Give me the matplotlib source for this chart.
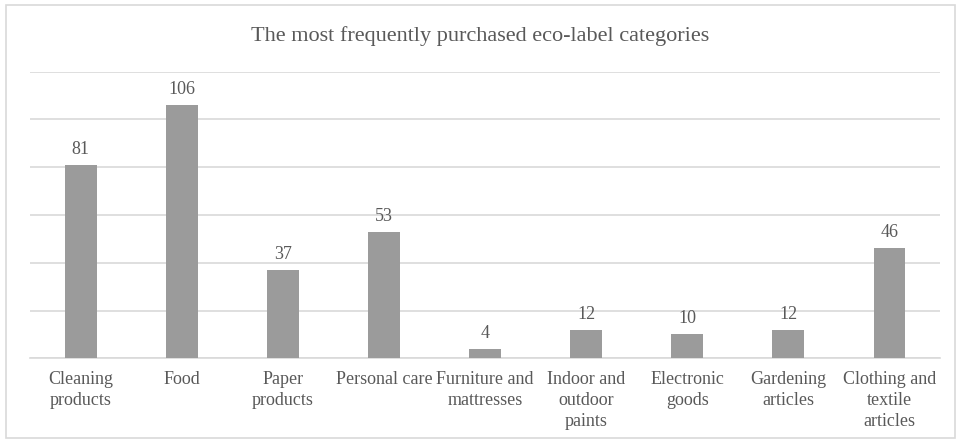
import numpy as np
import matplotlib.pyplot as plt
from matplotlib.patches import Rectangle

# data
categories = ['Cleaning\nproducts', 'Food', 'Paper\nproducts', 'Personal care',
              'Furniture and\nmattresses', 'Indoor and\noutdoor\npaints',
              'Electronic\ngoods', 'Gardening\narticles',
              'Clothing and\ntextile\narticles']
counts = [81, 106, 37, 53, 4, 12, 10, 12, 46]

plt.rcParams['font.family'] = ['Liberation Serif', 'DejaVu Serif']
txt_color = '#595959'

fig = plt.figure(figsize=(9.61, 4.43), dpi=100)
ax = fig.add_axes([0.0312, 0.1912, 0.9470, 0.6470])

x = np.arange(len(categories))
ax.bar(x, counts, width=0.316, color='#9b9b9b', zorder=3)

for xi, v in zip(x, counts):
    ax.annotate(str(v), (xi, v), xytext=(0, 5), textcoords='offset points',
                ha='center', va='bottom', fontsize=13, color=txt_color)

ax.set_xlim(-0.5, len(categories) - 0.5)
ax.set_ylim(0, 120)
ax.set_yticks(np.arange(0, 121, 20))
ax.yaxis.grid(True, color='#d9d9d9', linewidth=1.2, zorder=0)
ax.tick_params(axis='y', left=False, labelleft=False)
ax.tick_params(axis='x', length=0, pad=9)
ax.set_xticks(x)
ax.set_xticklabels(categories, fontsize=13, color=txt_color,
                   linespacing=1.32, multialignment='center')
for s in ['top', 'left', 'right']:
    ax.spines[s].set_visible(False)
ax.spines['bottom'].set_color('#d9d9d9')
ax.spines['bottom'].set_linewidth(1.2)

fig.text(0.5, 0.918, 'The most frequently purchased eco-label categories',
         ha='center', va='center', fontsize=16, color=txt_color)

# outer chart border
fig.patches.append(Rectangle((0.0062, 0.011), 0.988, 0.977, transform=fig.transFigure,
                             fill=False, edgecolor='#d9d9d9', linewidth=1.2))

fig.savefig('out.png', dpi=100)
